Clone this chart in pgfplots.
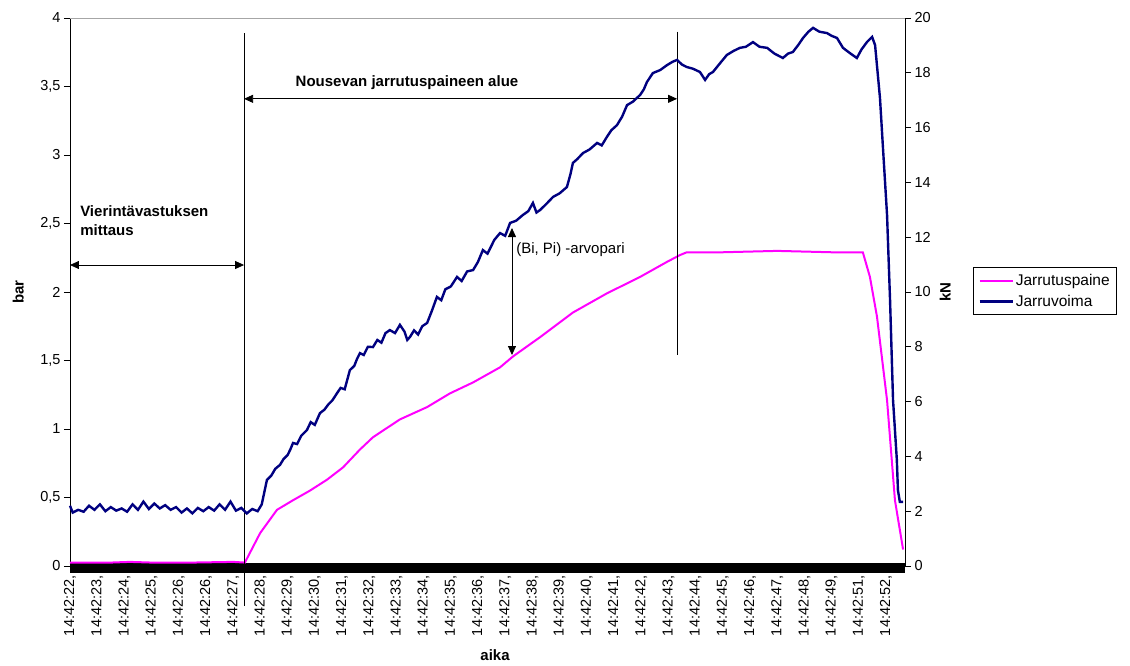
\documentclass[border=0pt]{standalone}
\usepackage{fontspec}
\setmainfont{Liberation Sans}
\usepackage{pgfplots}
\pgfplotsset{compat=1.18}
\usetikzlibrary{arrows.meta}
\definecolor{pinkc}{HTML}{FF00FF}
\definecolor{navyc}{HTML}{000080}

\begin{document}
\begin{tikzpicture}[font=\fontsize{15pt}{18pt}\selectfont, >={Triangle[length=9pt,width=8pt]}]
\path[use as bounding box] (-70pt,-100pt) rectangle (1060pt,566pt);
\begin{axis}[
  scale only axis, width=835pt, height=548pt,
  xmin=0, xmax=30.7, ymin=0, ymax=4,
  axis x line*=bottom, axis y line*=left,
  axis line style={black, line width=0.8pt},
  xtick={0,...,30},
  xticklabels={{14:42:22,},{14:42:23,},{14:42:24,},{14:42:25,},{14:42:26,},{14:42:26,},{14:42:27,},{14:42:28,},{14:42:29,},{14:42:30,},{14:42:31,},{14:42:32,},{14:42:33,},{14:42:34,},{14:42:35,},{14:42:36,},{14:42:37,},{14:42:38,},{14:42:39,},{14:42:40,},{14:42:41,},{14:42:42,},{14:42:43,},{14:42:44,},{14:42:45,},{14:42:46,},{14:42:47,},{14:42:48,},{14:42:49,},{14:42:51,},{14:42:52,}},
  xticklabel style={rotate=90, anchor=east, font=\fontsize{14.5pt}{17pt}\selectfont},
  x tick style={draw=none},
  ytick={0,0.5,...,4}, yticklabels={0,{0,5},1,{1,5},2,{2,5},3,{3,5},4},
  yticklabel style={font=\fontsize{14.5pt}{17pt}\selectfont},
  tick align=outside, major tick length=6pt,
  y tick style={black, line width=0.8pt},
  ylabel={\bfseries bar},
  ylabel style={at={(axis description cs:-0.062,0.5)}, anchor=center},
  xlabel={\bfseries aika},
  xlabel style={at={(axis description cs:0.509,-0.162)}, anchor=center},
  clip=false,
]
\fill[black] (axis cs:0,-0.052) rectangle (axis cs:30.7,0.02);
\draw[gray!70, line width=0.6pt] (rel axis cs:0,1) -- (rel axis cs:1,1);
\addplot[pinkc, line width=2pt] coordinates {
(0,0.025) (1.5,0.025) (2.2,0.03) (3,0.025) (4.5,0.025) (6.0,0.03) (6.43,0.025)
(6.99,0.24) (7.61,0.41) (8.20,0.48) (8.82,0.55) (9.45,0.63) (10.04,0.72)
(10.66,0.85) (11.14,0.94) (12.13,1.07) (13.13,1.16) (13.97,1.26) (14.82,1.34)
(15.81,1.45) (16.29,1.53) (17.28,1.67) (18.49,1.85) (19.74,1.99) (20.96,2.11)
(21.95,2.22) (22.43,2.27) (22.68,2.29) (24,2.29) (26,2.30) (28,2.29) (29.15,2.29)
(29.41,2.11) (29.67,1.82) (30.04,1.21) (30.33,0.48) (30.63,0.12)
};
\draw[black, line width=0.8pt] (axis cs:6.40,3.89) -- (axis cs:6.40,-0.29);
\draw[black, line width=0.8pt] (axis cs:22.32,3.90) -- (axis cs:22.32,1.54);
\draw[<->, line width=0.8pt] (axis cs:0,2.197) -- (axis cs:6.40,2.197);
\draw[<->, line width=0.8pt] (axis cs:6.40,3.41) -- (axis cs:22.32,3.41);
\draw[<->, line width=0.8pt] (axis cs:16.25,2.467) -- (axis cs:16.25,1.54);
\node[anchor=north west, align=left, font=\bfseries\fontsize{15pt}{19pt}\selectfont, inner sep=0pt] at (axis cs:0.37,2.63) {Vierintävastuksen\\mittaus};
\node[font=\bfseries\fontsize{15pt}{18pt}\selectfont, inner sep=0pt] at (axis cs:12.39,3.53) {Nousevan jarrutuspaineen alue};
\node[anchor=west, inner sep=0pt] at (axis cs:16.4,2.31) {(Bi, Pi) -arvopari};
\end{axis}
\begin{axis}[
  scale only axis, width=835pt, height=548pt,
  xmin=0, xmax=30.7, ymin=0, ymax=20,
  axis x line=none, axis y line*=right,
  axis line style={black, line width=0.8pt},
  ytick={0,2,...,20},
  yticklabel style={font=\fontsize{14.5pt}{17pt}\selectfont},
  /pgf/number format/assume math mode=true,
  tick align=outside, major tick length=6pt,
  y tick style={black, line width=0.8pt},
  ylabel={\bfseries kN},
  ylabel style={at={(axis description cs:1.048,0.5)}, anchor=center},
  legend style={at={(axis description cs:1.0814,0.5456)}, anchor=north west, draw=black, line width=0.8pt, font=\fontsize{15.5pt}{18pt}\selectfont, inner xsep=5pt, inner ysep=5pt, row sep=4pt},
  legend cell align=left,
  legend image code/.code={\draw[#1] (4pt,0pt) -- (37pt,0pt);},
  clip=false,
]
\addlegendimage{pinkc, line width=2pt}
\addlegendentry{Jarrutuspaine}
\addplot[navyc, line width=2.4pt] coordinates {
(0.00,2.20) (0.10,1.95) (0.30,2.05) (0.50,1.98) (0.70,2.20) (0.90,2.05) (1.10,2.25)
(1.30,2.00) (1.50,2.15) (1.70,2.02) (1.90,2.10) (2.10,1.98) (2.30,2.25) (2.50,2.05)
(2.70,2.35) (2.90,2.08) (3.10,2.28) (3.30,2.10) (3.50,2.22) (3.70,2.05) (3.90,2.15)
(4.10,1.95) (4.30,2.10) (4.50,1.92) (4.70,2.12) (4.90,2.00) (5.10,2.15) (5.30,2.02)
(5.50,2.25) (5.70,2.05) (5.90,2.35) (6.10,2.02) (6.30,2.12) (6.50,1.92) (6.70,2.08)
(6.90,2.00) (7.05,2.25) (7.24,3.14) (7.40,3.30) (7.55,3.55) (7.72,3.69) (7.85,3.90)
(8.00,4.05) (8.10,4.25) (8.20,4.49) (8.35,4.45) (8.50,4.75) (8.71,4.96) (8.85,5.25)
(9.00,5.15) (9.19,5.58) (9.35,5.70) (9.50,5.90) (9.65,6.05) (9.82,6.31) (9.95,6.50)
(10.10,6.45) (10.29,7.15) (10.45,7.30) (10.55,7.55) (10.66,7.77) (10.80,7.70)
(10.95,8.00) (11.14,7.99) (11.30,8.25) (11.45,8.15) (11.60,8.50) (11.76,8.61)
(11.95,8.50) (12.13,8.80) (12.30,8.55) (12.40,8.25) (12.50,8.36) (12.65,8.60)
(12.80,8.45) (12.95,8.75) (13.13,8.87) (13.30,9.30) (13.49,9.82) (13.65,9.70)
(13.80,10.10) (14.00,10.20) (14.23,10.55) (14.40,10.40) (14.60,10.75) (14.82,10.80)
(15.00,11.10) (15.18,11.53) (15.35,11.40) (15.60,11.90) (15.81,12.15) (16.00,12.05)
(16.18,12.52) (16.40,12.60) (16.65,12.81) (16.85,12.95) (17.02,13.25) (17.15,12.90)
(17.28,12.99) (17.50,13.20) (17.76,13.47) (18.00,13.60) (18.27,13.83) (18.40,14.30)
(18.49,14.71) (18.65,14.85) (18.86,15.07) (19.10,15.20) (19.38,15.44) (19.55,15.35)
(19.74,15.66) (19.90,15.90) (20.11,16.09) (20.30,16.40) (20.48,16.82) (20.70,16.95)
(20.96,17.19) (21.10,17.40) (21.21,17.66) (21.43,17.99) (21.70,18.10) (21.95,18.28)
(22.15,18.40) (22.32,18.47) (22.50,18.30) (22.68,18.21) (22.90,18.15) (23.16,18.03)
(23.35,17.74) (23.50,17.95) (23.64,18.03) (23.90,18.35) (24.15,18.65) (24.40,18.80)
(24.63,18.91) (24.85,18.95) (25.11,19.12) (25.35,18.95) (25.63,18.91) (25.90,18.70)
(26.21,18.54) (26.40,18.70) (26.58,18.76) (26.80,19.05) (26.95,19.27) (27.15,19.50)
(27.32,19.64) (27.55,19.50) (27.83,19.45) (28.00,19.35) (28.20,19.27) (28.42,18.91)
(28.70,18.70) (28.93,18.54) (29.10,18.85) (29.30,19.12) (29.49,19.31) (29.60,19.01)
(29.78,17.08) (29.89,15.26) (30.04,12.81) (30.15,9.71) (30.26,6.06) (30.40,3.87)
(30.44,2.77) (30.51,2.34) (30.63,2.34)
};
\addlegendentry{Jarruvoima}
\end{axis}
\end{tikzpicture}
\end{document}
